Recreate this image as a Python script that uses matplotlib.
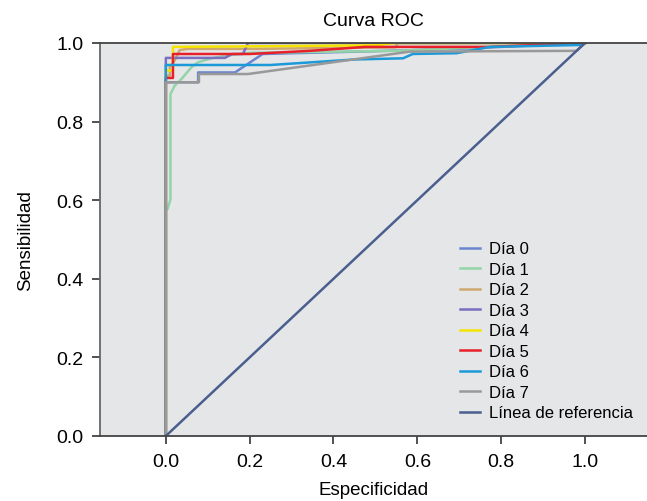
import numpy as np
import matplotlib
matplotlib.use("Agg")
from matplotlib import pyplot as plt

plt.rcParams['font.family'] = ['Liberation Sans', 'DejaVu Sans']

# Curve ROC (1 - especificidad, sensibilidad)
dia0_x = [0, 0, 0.077, 0.077, 0.165, 0.231, 0.456, 0.70, 1.0]
dia0_y = [0, 0.90, 0.90, 0.925, 0.925, 0.972, 0.978, 0.985, 1.0]

dia1_x = [0, 0, 0.004, 0.011, 0.011, 0.021, 0.037, 0.061, 0.077, 0.109, 0.145, 0.20, 0.55, 1.0]
dia1_y = [0, 0.577, 0.577, 0.602, 0.87, 0.891, 0.908, 0.938, 0.951, 0.961, 0.968, 0.975, 0.98, 1.0]

dia2_x = [0, 0, 0.0095, 0.0095, 0.021, 0.033, 0.053, 0.212, 0.548, 0.553, 1.0]
dia2_y = [0, 0.917, 0.917, 0.94, 0.955, 0.982, 0.985, 0.985, 0.989, 1.0, 1.0]

dia3_x = [0, 0, 0.141, 0.158, 0.184, 0.196, 1.0]
dia3_y = [0, 0.962, 0.962, 0.972, 0.972, 1.0, 1.0]

dia4_x = [0, 0, 0.017, 0.017, 0.50, 0.55, 1.0]
dia4_y = [0, 0.93, 0.93, 0.99, 0.994, 1.0, 1.0]

dia5_x = [0, 0, 0.017, 0.017, 0.20, 0.344, 0.475, 0.77, 1.0]
dia5_y = [0, 0.911, 0.911, 0.972, 0.972, 0.98, 0.99, 0.99, 1.0]

dia6_x = [0, 0, 0.25, 0.45, 0.566, 0.589, 0.694, 0.773, 0.995, 1.0]
dia6_y = [0, 0.944, 0.944, 0.958, 0.961, 0.972, 0.974, 0.99, 0.995, 1.0]

dia7_x = [0, 0, 0.079, 0.079, 0.196, 0.582, 0.98, 1.0]
dia7_y = [0, 0.90, 0.90, 0.921, 0.921, 0.978, 0.98, 1.0]

ref_x = [0, 1]
ref_y = [0, 1]

etichette = ['Día 0', 'Día 1', 'Día 2', 'Día 3', 'Día 4', 'Día 5', 'Día 6', 'Día 7']
colori = ['#6B86CF', '#93D4A8', '#CFA870', '#7A6FC0', '#F5E400', '#E8202A', '#1C9AD8', '#999999']
curve = [(dia0_x, dia0_y), (dia1_x, dia1_y), (dia2_x, dia2_y), (dia3_x, dia3_y),
         (dia4_x, dia4_y), (dia5_x, dia5_y), (dia6_x, dia6_y), (dia7_x, dia7_y)]

fig = plt.figure(figsize=(6.47, 5.02), dpi=100)
ax = fig.add_axes([0.1546, 0.1295, 0.8454, 0.7829])
ax.set_facecolor('#E5E6E8')

for (x, y), lab, col in zip(curve, etichette, colori):
    ax.plot(x, y, color=col, lw=1.8, label=lab)
ax.plot(ref_x, ref_y, color='#4A5F8E', lw=1.8, label='Línea de referencia')

ax.set_xlim(-0.157, 1.148)
ax.set_ylim(0, 1)
ax.set_xticks(np.arange(0, 1.01, 0.2))
ax.set_yticks(np.arange(0, 1.01, 0.2))
ax.set_xticklabels(['0.0', '0.2', '0.4', '0.6', '0.8', '1.0'])
ax.set_yticklabels(['0.0', '0.2', '0.4', '0.6', '0.8', '1.0'])
ax.tick_params(labelsize=14, length=6, width=1.2, color='#333333', pad=6)

ax.spines['right'].set_visible(False)
for s in ['left', 'top', 'bottom']:
    ax.spines[s].set_linewidth(1.3)
    ax.spines[s].set_color('#444444')
ax.spines['left'].set_color('#666666')

ax.set_title('Curva ROC', fontsize=14, pad=13)
ax.set_xlabel('Especificidad', fontsize=13.5, labelpad=8)
ax.set_ylabel('Sensibilidad', fontsize=13.5, labelpad=16)

ax.legend(loc='lower right', bbox_to_anchor=(0.995, 0.01), frameon=False, fontsize=12,
          handlelength=1.2, handletextpad=0.5, labelspacing=0.33, borderaxespad=0.3)

fig.savefig('out.png', dpi=100)
